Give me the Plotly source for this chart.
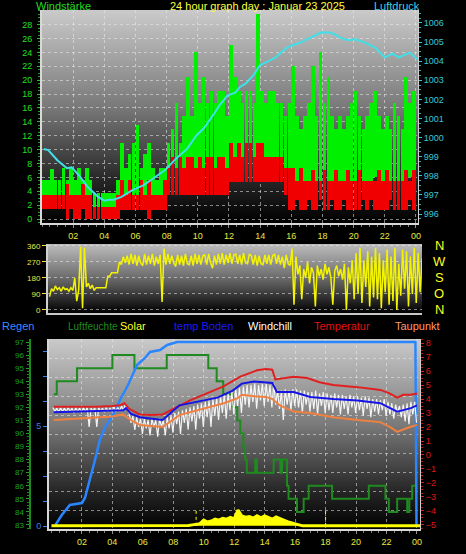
import base64
import plotly.graph_objects as go

W, H = 466, 554

# ---------------- data ----------------
hour_ticks = [2, 4, 6, 8, 10, 12, 14, 16, 18, 20, 22, 24]
hour_labels = ["02", "04", "06", "08", "10", "12", "14", "16", "18", "20", "22", "00"]

# wind speed, 15-minute bins (4 per hour)
gust_hi = [5.6, 5.6, 7.2, 5.6,  5.6, 7.4, 5.6, 7.4,  5.6, 7.4, 5.6, 7.4,  5.6, 3.7, 3.7, 3.7,
           3.7, 3.7, 3.7, 5.6,  11.0, 7.4, 9.3, 11.0,  13.5, 7.4, 9.3, 11.0,  7.4, 5.6, 7.4, 7.4,
           11.0, 13.0, 16.7, 11.0,  14.8, 20.4, 14.8, 24.0,  16.7, 20.4, 16.7, 18.5,  16.7, 18.5, 18.5, 14.8,
           25.0, 20.4, 18.5, 16.7,  18.5, 18.5, 16.7, 29.5,  18.5, 16.7, 18.5, 18.5,  16.7, 16.7, 14.8, 16.7,
           22.0, 14.8, 13.0, 14.8,  16.7, 22.0, 14.8, 24.0,  16.7, 20.4, 14.8, 13.0,  14.8, 13.0, 14.8, 16.7,
           18.5, 14.8, 13.0, 14.8,  16.7, 18.5, 14.8, 13.0,  14.8, 13.0, 16.7, 14.8,  13.0, 20.4, 16.7, 18.5]
gust_lo = [3.5, 3.5, 3.5, 3.5,  3.5, 3.5, 3.5, 3.5,  3.5, 3.5, 3.5, 3.5,  3.5, 1.8, 1.8, 1.8,
           1.8, 1.8, 1.8, 1.8,  3.5, 3.5, 3.5, 3.5,  3.5, 3.5, 3.5, 3.5,  3.5, 3.5, 3.5, 5.5,
           5.5, 7.3, 7.3, 7.3,  7.3, 7.3, 7.3, 7.3,  7.3, 7.3, 7.3, 7.3,  7.3, 7.3, 7.3, 7.3,
           9.0, 9.0, 9.0, 9.0,  9.0, 9.0, 9.0, 9.0,  9.0, 9.0, 9.0, 9.0,  9.0, 9.0, 7.3, 7.0,
           5.5, 5.5, 5.0, 5.5,  5.5, 6.0, 5.5, 5.5,  5.0, 5.5, 5.5, 6.0,  5.5, 5.5, 5.0, 5.5,
           5.5, 5.0, 5.5, 5.5,  5.5, 6.0, 5.5, 5.0,  5.5, 5.5, 5.5, 5.0,  5.5, 5.5, 6.0, 5.5]
avg_hi = [3.4, 3.4, 3.4, 3.4,  3.4, 3.4, 5.0, 3.4,  3.4, 3.4, 5.0, 3.4,  3.4, 1.8, 1.8, 1.8,
          1.8, 1.8, 1.8, 3.4,  5.6, 3.4, 5.6, 3.4,  3.4, 5.6, 3.4, 5.6,  3.4, 3.4, 3.4, 5.6,
          7.3, 9.0, 7.3, 9.0,  7.3, 9.0, 9.0, 7.3,  9.0, 7.3, 9.0, 9.0,  7.3, 9.0, 9.0, 7.3,
          10.9, 9.0, 10.9, 9.0,  10.9, 10.9, 9.0, 10.9,  10.9, 9.0, 9.0, 9.0,  9.0, 9.0, 7.3, 7.3,
          7.3, 5.5, 7.3, 5.5,  5.5, 7.0, 5.5, 5.5,  7.0, 5.5, 5.5, 7.0,  5.5, 5.5, 7.0, 5.5,
          5.5, 7.0, 5.5, 5.5,  5.5, 5.5, 7.0, 5.5,  7.0, 5.5, 5.5, 5.5,  5.5, 7.0, 5.5, 7.0]
avg_lo = [1.4, 1.4, 1.4, 1.4,  1.4, 1.4, 0.0, 1.4,  0.0, 0.0, 1.4, 0.0,  0.0, 0.0, 0.0, 0.0,
          0.0, 0.0, 0.0, 0.0,  1.3, 1.3, 1.3, 1.3,  1.3, 1.3, 1.3, 0.0,  1.3, 1.3, 1.3, 1.3,
          3.4, 3.4, 3.4, 3.4,  3.4, 3.4, 3.4, 3.4,  3.4, 3.4, 3.4, 3.4,  3.4, 3.4, 3.4, 3.4,
          5.3, 5.3, 5.3, 5.3,  5.3, 5.3, 5.3, 5.3,  5.3, 5.3, 5.3, 5.3,  5.3, 5.3, 3.4, 1.3,
          1.3, 2.7, 1.3, 1.3,  2.7, 1.3, 1.3, 2.7,  1.3, 1.3, 2.7, 1.3,  1.3, 2.7, 1.3, 1.3,
          1.3, 1.3, 2.7, 1.3,  2.7, 1.3, 1.3, 1.3,  1.3, 2.7, 1.3, 1.3,  1.3, 1.3, 2.7, 1.3]

# pressure (hPa)
p_hours = [0.13, 0.4, 1.0, 1.6, 1.9, 2.4, 2.95, 3.6, 4.0, 4.3, 4.6, 5.1, 5.8, 6.5, 7.2, 7.9, 8.6, 9.3,
           9.9, 10.4, 11.0, 11.4, 11.9, 12.4, 12.7, 13.1, 13.6, 14.0, 14.4, 15.0, 15.4, 15.8, 16.5,
           17.0, 17.6, 17.9, 18.5, 18.8, 19.1, 19.6, 20.1, 20.8, 21.4, 22.0, 22.5, 22.9, 23.6, 24.1]
p_vals = [999.4, 999.35, 998.8, 998.4, 998.45, 998.0, 997.4, 996.9, 996.7, 996.75, 996.75, 996.9,
          997.25, 997.5, 997.9, 998.3, 998.9, 999.4, 1000.1, 1000.5, 1001.2, 1001.7, 1002.2, 1002.35,
          1002.65, 1002.85, 1003.3, 1003.8, 1003.95, 1004.2, 1004.5, 1004.75, 1004.95, 1005.15,
          1005.4, 1005.5, 1005.5, 1005.4, 1005.25, 1005.1, 1005.15, 1004.95, 1004.7, 1004.2,
          1004.4, 1004.2, 1004.45, 1004.1]

# wind direction (degrees), 8 samples per hour
dir_vals = [75, 120, 105, 135, 115, 125, 105, 130,
            115, 120, 105, 125, 110, 180, 50, 110,
            355, 10, 350, 130, 150, 120, 140, 110,
            125, 125, 125, 125, 125, 125, 190, 190,
            210, 210, 210, 210, 270, 255, 300, 265,
            305, 255, 315, 260, 310, 250, 305, 265,
            250, 315, 255, 305, 260, 315, 250, 300,
            260, 310, 45, 345, 255, 315, 260, 305,
            265, 245, 310, 255, 305, 250, 315, 260,
            255, 305, 250, 315, 260, 310, 255, 305,
            310, 255, 315, 265, 235, 305, 255, 315,
            260, 320, 255, 310, 265, 320, 260, 310,
            315, 260, 310, 255, 320, 265, 260, 315,
            305, 255, 310, 250, 305, 260, 255, 310,
            260, 310, 255, 305, 315, 260, 310, 255,
            300, 235, 310, 260, 250, 345, 30, 300,
            200, 250, 60, 230, 180, 270, 150, 240,
            210, 20, 250, 190, 230, 170, 260, 200,
            240, 180, 30, 220, 250, 190, 230, 170,
            260, 0, 240, 150, 280, 60, 320, 90,
            350, 40, 280, 130, 330, 20, 300, 70,
            350, 60, 320, 10, 280, 100, 340, 30,
            300, 50, 350, 0, 260, 80, 340, 120,
            330, 20, 300, 90, 350, 40, 320, 100,
            290]
compass_vals = [0, 90, 180, 270, 360]
compass_text = ["N", "O", "S", "W", "N"]

# humidity (%), step changes
hum_hours = [0.15, 0.35, 1.68, 4.0, 5.45, 7.57, 10.3, 10.85, 11.28, 11.9, 12.2, 12.4, 12.6, 12.72,
             12.83, 13.38, 13.49, 14.59, 15.03, 15.14, 15.47, 15.57, 16.12, 16.56, 16.89, 18.43,
             20.84, 21.93, 22.15, 22.7, 23.36, 23.5, 23.69, 24.0]
hum_vals = [93, 94, 95, 96, 95, 96, 95, 94, 93, 92, 91, 90, 89, 88,
            87, 88, 87, 88, 87, 88, 86, 85, 84, 85, 86, 85,
            86, 85, 84, 85, 84, 85, 86, 86]

# rain (mm)
rain_hours = [0.22, 0.68, 1.21, 1.6, 2.0, 2.2, 2.53, 2.86, 3.18, 3.5, 4.04, 4.5, 5.03, 5.62,
              6.14, 6.47, 7.13, 7.6, 8.25, 23.9, 23.97]
rain_vals = [0.0, 0.55, 1.05, 1.1, 1.15, 1.4, 2.3, 3.3, 4.3, 4.9, 5.55, 6.3, 7.05, 8.05,
             8.4, 8.7, 8.8, 9.05, 9.2, 9.2, 0.0]

# solar (W/m2)
solar_hours = [0.0, 8.75, 9.0, 9.25, 9.5, 9.75, 10.0, 10.25, 10.5, 10.75, 11.0, 11.25, 11.5, 11.75,
               12.0, 12.25, 12.5, 12.75, 13.0, 13.25, 13.5, 13.75, 14.0, 14.25, 14.5, 14.75, 15.0,
               15.25, 15.5, 15.75, 16.0, 16.25, 16.5, 24.2]
solar_vals = [0, 0, 1, 3, 4, 7, 18, 12, 15, 21, 18, 24, 21, 27,
              22, 50, 31, 27, 29, 24, 32, 25, 31, 27, 21, 28, 22,
              18, 13, 10, 6, 3, 0, 0]
sun_marks = [9.5, 18.0]
sun_mark_height = 55

# temperatures (deg C)
temp_hours = [0.15, 1, 2, 3, 4, 4.5, 4.8, 5.1, 5.8, 6.5, 7.3, 8.0, 9.1, 10.2, 11.3, 12.4, 13.5, 14.1,
              14.5, 14.7, 15.3, 15.9, 16.8, 17.6, 18.5, 20.1, 21.6, 22.2, 22.7, 23.1, 23.6, 24.0]
temp_vals = [3.45, 3.45, 3.4, 3.45, 3.5, 3.55, 3.7, 3.3, 2.9, 2.85, 2.9, 3.3, 3.9, 4.4, 4.9, 5.6, 6.05,
             6.15, 6.1, 5.4, 5.5, 5.6, 5.5, 5.2, 5.0, 4.85, 4.65, 4.4, 4.1, 4.3, 4.3, 4.4]
soil_hours = [0.15, 2, 4, 4.7, 4.9, 5.2, 5.8, 7.3, 8.4, 9.6, 10.9, 11.9, 12.5, 13.3, 14.5, 14.8, 15.9,
              17.0, 18.5, 20.1, 21.6, 22.7, 23.6, 24.0]
soil_vals = [3.05, 3.1, 3.15, 3.2, 3.35, 2.95, 2.7, 2.5, 3.55, 3.8, 4.1, 4.6, 5.1, 5.25, 5.15, 4.5, 4.5,
             4.15, 4.0, 3.9, 3.7, 3.1, 3.35, 3.55]
dew_hours = [0.15, 2, 4, 4.7, 5.2, 5.8, 7.3, 8.4, 10.2, 11.3, 12.2, 12.5, 13.3, 14.1, 14.5, 15.0, 15.9,
             17.0, 18.5, 19.2, 20.1, 21.6, 22.3, 22.7, 23.4, 24.0]
dew_vals = [2.5, 2.6, 2.75, 2.9, 2.5, 2.15, 2.0, 2.85, 3.35, 3.7, 4.05, 4.3, 4.2, 4.15, 4.0, 3.55, 3.1,
            3.0, 2.7, 2.6, 2.5, 2.35, 1.95, 1.65, 1.95, 2.15]
# windchill, 8 samples per hour
chill_vals = [3.4, 3.1, 3.35, 3.05, 3.4, 3.1, 3.35, 3.1,
              3.4, 3.1, 3.35, 3.0, 3.4, 3.1, 3.35, 3.05,
              3.4, 3.1, 3.4, 2.0, 3.35, 3.1, 3.4, 2.0,
              3.4, 3.1, 3.35, 3.05, 3.4, 3.1, 3.35, 3.1,
              3.45, 3.1, 3.4, 3.15, 3.5, 3.2, 3.6, 3.3,
              3.0, 2.3, 2.8, 1.8, 2.7, 2.0, 2.6, 1.5,
              2.6, 1.9, 2.5, 1.4, 2.6, 2.0, 2.5, 1.3,
              2.6, 2.0, 2.5, 1.4, 2.7, 1.9, 2.8, 1.6,
              3.0, 2.2, 3.1, 1.5, 3.2, 2.3, 3.3, 1.8,
              3.4, 2.4, 3.5, 1.8, 3.6, 2.6, 3.7, 2.0,
              3.8, 2.7, 3.9, 2.0, 4.0, 2.8, 4.1, 2.5,
              4.2, 3.0, 4.3, 2.6, 4.4, 3.2, 4.5, 2.9,
              4.7, 3.5, 4.8, 3.0, 4.9, 3.6, 5.0, 3.4,
              5.0, 3.8, 5.1, 3.3, 5.0, 3.9, 5.1, 3.5,
              5.1, 3.8, 5.0, 3.4, 5.1, 3.6, 4.6, 3.3,
              4.6, 2.5, 4.7, 3.6, 4.6, 3.2, 4.7, 3.5,
              4.7, 3.4, 4.6, 3.0, 4.6, 3.6, 4.5, 3.1,
              4.5, 3.3, 4.6, 2.9, 4.4, 3.5, 4.5, 3.0,
              4.4, 3.2, 4.3, 3.0, 4.4, 3.4, 4.3, 2.9,
              4.3, 3.3, 4.2, 2.9, 4.3, 3.4, 4.2, 3.0,
              4.2, 3.2, 4.1, 2.8, 4.2, 3.3, 4.1, 2.7,
              4.0, 3.1, 4.0, 2.9, 3.9, 3.2, 4.0, 2.8,
              3.8, 2.9, 3.7, 2.6, 3.6, 3.0, 3.5, 2.7,
              3.6, 2.4, 3.7, 2.2, 3.8, 2.9, 3.8, 2.3]

legend_items = [("Regen", "#3d8bff", 11), ("Luftfeuchte", "#1f8a1f", 10), ("Solar", "#ffff20", 11),
                ("temp Boden", "#1a1aff", 11), ("Windchill", "#ffffff", 11), ("Temperatur", "#e01010", 11),
                ("Taupunkt", "#ff9a6a", 11)]
legend_px = [0, 66, 118, 172, 246, 312, 393]

# ---------------- layout helpers ----------------
FONT = "Liberation Sans, Arial, sans-serif"


def fx(p):
    return p / W


def fy(p):
    return 1 - p / H


P1x, P1y = [fx(42), fx(418)], [fy(223), fy(10)]
P2x, P2y = [fx(48), fx(422)], [fy(313), fy(244)]
P3x, P3y = [fx(49), fx(420)], [fy(529), fy(339)]


def grad_uri(stops):
    st = "".join(f'<stop offset="{o}" stop-color="{c}"/>' for o, c in stops)
    svg = ('<svg xmlns="http://www.w3.org/2000/svg" width="10" height="100" viewBox="0 0 10 100" '
           'preserveAspectRatio="none"><defs><linearGradient id="g" x1="0" y1="0" x2="0" y2="1">'
           f'{st}</linearGradient></defs><rect width="10" height="100" fill="url(#g)"/></svg>')
    return "data:image/svg+xml;base64," + base64.b64encode(svg.encode()).decode()


def bg_image(dx, dy, stops):
    return dict(source=grad_uri(stops), xref="paper", yref="paper", x=dx[0], y=dy[1],
                sizex=dx[1] - dx[0], sizey=dy[1] - dy[0], xanchor="left", yanchor="top",
                sizing="stretch", layer="below")


bin_step = 0.25
bin_x = [bin_step * (i + 0.5) for i in range(len(gust_hi))]
dir_step = 0.1245
dir_x = [0.1 + dir_step * i for i in range(len(dir_vals))]
chill_step = 0.125
chill_x = [0.1 + chill_step * i for i in range(len(chill_vals))]

fig = go.Figure()

# panel 1: wind speed bars and pressure
fig.add_trace(go.Bar(x=bin_x, y=[h - l for h, l in zip(gust_hi, gust_lo)], base=gust_lo,
                     width=0.23, marker=dict(color="#00f000", line=dict(width=0)),
                     xaxis="x", yaxis="y"))
fig.add_trace(go.Bar(x=bin_x, y=[h - l for h, l in zip(avg_hi, avg_lo)], base=avg_lo,
                     width=0.23, marker=dict(color="#f00000", line=dict(width=0)),
                     xaxis="x", yaxis="y"))
fig.add_trace(go.Scatter(x=p_hours, y=p_vals, mode="lines", line=dict(color="#3fe0e8", width=2),
                         xaxis="x", yaxis="y2"))

# panel 2: wind direction
fig.add_trace(go.Scatter(x=dir_x, y=dir_vals, mode="lines", line=dict(color="#f4f400", width=1.5),
                         xaxis="x2", yaxis="y3"))

# panel 3
fig.add_trace(go.Scatter(x=hum_hours, y=hum_vals, mode="lines", line=dict(color="#1f8a1f", width=2, shape="hv"),
                         xaxis="x3", yaxis="y5"))
fig.add_trace(go.Scatter(x=rain_hours, y=rain_vals, mode="lines", line=dict(color="#2a86ff", width=2.5),
                         xaxis="x3", yaxis="y6"))
fig.add_trace(go.Scatter(x=chill_x, y=chill_vals, mode="lines", line=dict(color="#f4f4f4", width=1.2),
                         xaxis="x3", yaxis="y7"))
fig.add_trace(go.Scatter(x=dew_hours, y=dew_vals, mode="lines", line=dict(color="#f08040", width=2),
                         xaxis="x3", yaxis="y7"))
fig.add_trace(go.Scatter(x=temp_hours, y=temp_vals, mode="lines", line=dict(color="#e02020", width=2),
                         xaxis="x3", yaxis="y7"))
fig.add_trace(go.Scatter(x=soil_hours, y=soil_vals, mode="lines", line=dict(color="#1414e6", width=2),
                         xaxis="x3", yaxis="y7"))
fig.add_trace(go.Scatter(x=solar_hours, y=solar_vals, mode="lines", fill="tozeroy", fillcolor="#ffff00",
                         line=dict(color="#ffff00", width=3), xaxis="x3", yaxis="y8"))
sx, sy = [], []
for h in sun_marks:
    sx += [h, h, None]
    sy += [0, sun_mark_height, None]
fig.add_trace(go.Scatter(x=sx, y=sy, mode="lines", line=dict(color="#ffff00", width=1, dash="dot"),
                         xaxis="x3", yaxis="y8"))

grid = dict(showgrid=True, gridcolor="rgba(235,235,235,0.55)", griddash="dot", gridwidth=1)
tf = lambda c, s=9: dict(color=c, size=s, family=FONT)

layout = dict(
    width=W, height=H, margin=dict(l=0, r=0, t=0, b=0, autoexpand=False), showlegend=False,
    paper_bgcolor="#000000", plot_bgcolor="rgba(0,0,0,0)", barmode="overlay", bargap=0,
    hovermode=False,
    xaxis=dict(domain=P1x, anchor="y", range=[0, 24.13], tickvals=hour_ticks, ticktext=hour_labels,
               tickfont=tf("#e8e840"), ticks="outside", ticklen=3, tickcolor="#909090",
               showline=True, linecolor="#d8d8d8", linewidth=2, zeroline=False,
               minor=dict(ticks="outside", ticklen=2, dtick=0.5, tickcolor="#808080", showgrid=False), **grid),
    yaxis=dict(domain=P1y, anchor="x", range=[-0.57, 30.1], tickvals=list(range(0, 30, 2)),
               tickfont=tf("#22e022"), ticks="outside", ticklen=3, tickcolor="#22c022",
               showline=True, linecolor="#d8d8d8", linewidth=2, zeroline=False, ticklabelstandoff=3,
               minor=dict(ticks="outside", ticklen=2, dtick=0.5, tickcolor="#22a022", showgrid=False), **grid),
    yaxis2=dict(overlaying="y", side="right", anchor="x", range=[995.53, 1006.68],
                tickvals=list(range(996, 1007)), tickfont=tf("#38c8dc"), ticks="outside", ticklen=3,
                tickcolor="#38c8dc", showgrid=False, zeroline=False, showline=True, linecolor="#d0d0d0",
                minor=dict(ticks="outside", ticklen=2, dtick=0.25, tickcolor="#38a8b8")),
    xaxis2=dict(domain=P2x, anchor="y3", range=[0, 24], showticklabels=False, ticks="", showgrid=False,
                zeroline=False, showline=True, linecolor="#c8c8c8", linewidth=2),
    yaxis3=dict(domain=P2y, anchor="x2", range=[-17, 371], tickvals=compass_vals,
                tickfont=tf("#e8e840", 8), ticks="outside", ticklen=4, tickcolor="#e8e840",
                showline=True, linecolor="#d0d0d0", linewidth=2, zeroline=False, **grid),
    xaxis3=dict(domain=P3x, anchor="y5", range=[-0.16, 24.2], tickvals=hour_ticks, ticktext=hour_labels,
                tickfont=tf("#e8e840"), ticks="outside", ticklen=3, tickcolor="#909090",
                showline=True, linecolor="#d8d8d8", linewidth=2, zeroline=False,
                minor=dict(ticks="outside", ticklen=2, dtick=0.5, tickcolor="#808080", showgrid=False), **grid),
    yaxis5=dict(domain=P3y, anchor="free", position=fx(29.5), side="left", range=[82.69, 97.23],
                tickvals=list(range(83, 98)), tickfont=tf("#23a023", 8), ticks="outside", ticklen=3,
                tickcolor="#23a023", showline=True, linecolor="#1f8a1f", linewidth=2, showgrid=False,
                zeroline=False,
                minor=dict(ticks="outside", ticklen=2, dtick=0.25, tickcolor="#1f8a1f", showgrid=False)),
    yaxis6=dict(overlaying="y5", anchor="x3", side="left", range=[-0.15, 9.35],
                tickvals=[0, 1.25, 2.5, 3.75, 5, 6.25, 7.5, 8.75],
                ticktext=["0", "", "", "", "5", "", "", ""], tickfont=tf("#3a7cf0"), ticks="outside",
                ticklen=4, tickcolor="#3a7cf0", showgrid=False, zeroline=False, showline=True,
                linecolor="#d8d8d8", linewidth=2),
    yaxis7=dict(overlaying="y5", anchor="x3", side="right", range=[-5.29, 8.29],
                tickvals=list(range(-5, 9)), tickfont=tf("#e01818"), ticks="outside", ticklen=3,
                tickcolor="#e01818", showgrid=False, zeroline=False, showline=True, linecolor="#d0d0d0",
                minor=dict(ticks="outside", ticklen=2, dtick=0.25, tickcolor="#c01010")),
    yaxis8=dict(overlaying="y5", anchor="x3", side="right", range=[-10, 590],
                tickvals=[50, 110, 170, 230, 290, 350, 410, 470, 530], showticklabels=False, ticks="",
                showline=False, zeroline=False, **grid),
    images=[
        bg_image(P1x, P1y, [(0, "#cacaca"), (0.45, "#7a7a7a"), (0.8, "#262626"), (1, "#000000")]),
        bg_image(P2x, P2y, [(0, "#bdbdbd"), (0.5, "#6a6a6a"), (1, "#000000")]),
        bg_image(P3x, P3y, [(0, "#cacaca"), (0.45, "#7a7a7a"), (0.8, "#262626"), (1, "#000000")]),
    ],
)

ann = [
    dict(text="Windstärke", x=fx(34), y=fy(6), xanchor="left", font=tf("#22dd22", 11)),
    dict(text="24 hour graph day : Januar 23 2025", x=fx(257), y=fy(6), xanchor="center",
         font=tf("#ffff40", 11)),
    dict(text="Luftdruck", x=fx(372), y=fy(6), xanchor="left", font=tf("#40d0e0", 11)),
]
for (t, c, s), p in zip(legend_items, legend_px):
    ann.append(dict(text=t, x=fx(p), y=fy(326), xanchor="left", font=tf(c, s)))
for a in ann:
    a.update(xref="paper", yref="paper", yanchor="middle", showarrow=False)
for v, t in zip(compass_vals, compass_text):
    ann.append(dict(text=t, xref="paper", yref="y3", x=fx(439), y=v, xanchor="center", yanchor="middle",
                    showarrow=False, font=tf("#ffff20", 13)))
layout["annotations"] = ann

fig.update_layout(**layout)
fig.write_html("out.html", config={"displayModeBar": False, "staticPlot": True},
               post_script="document.body.style.margin='0';document.body.style.background='#000';"
                           "document.body.style.overflow='hidden';")
